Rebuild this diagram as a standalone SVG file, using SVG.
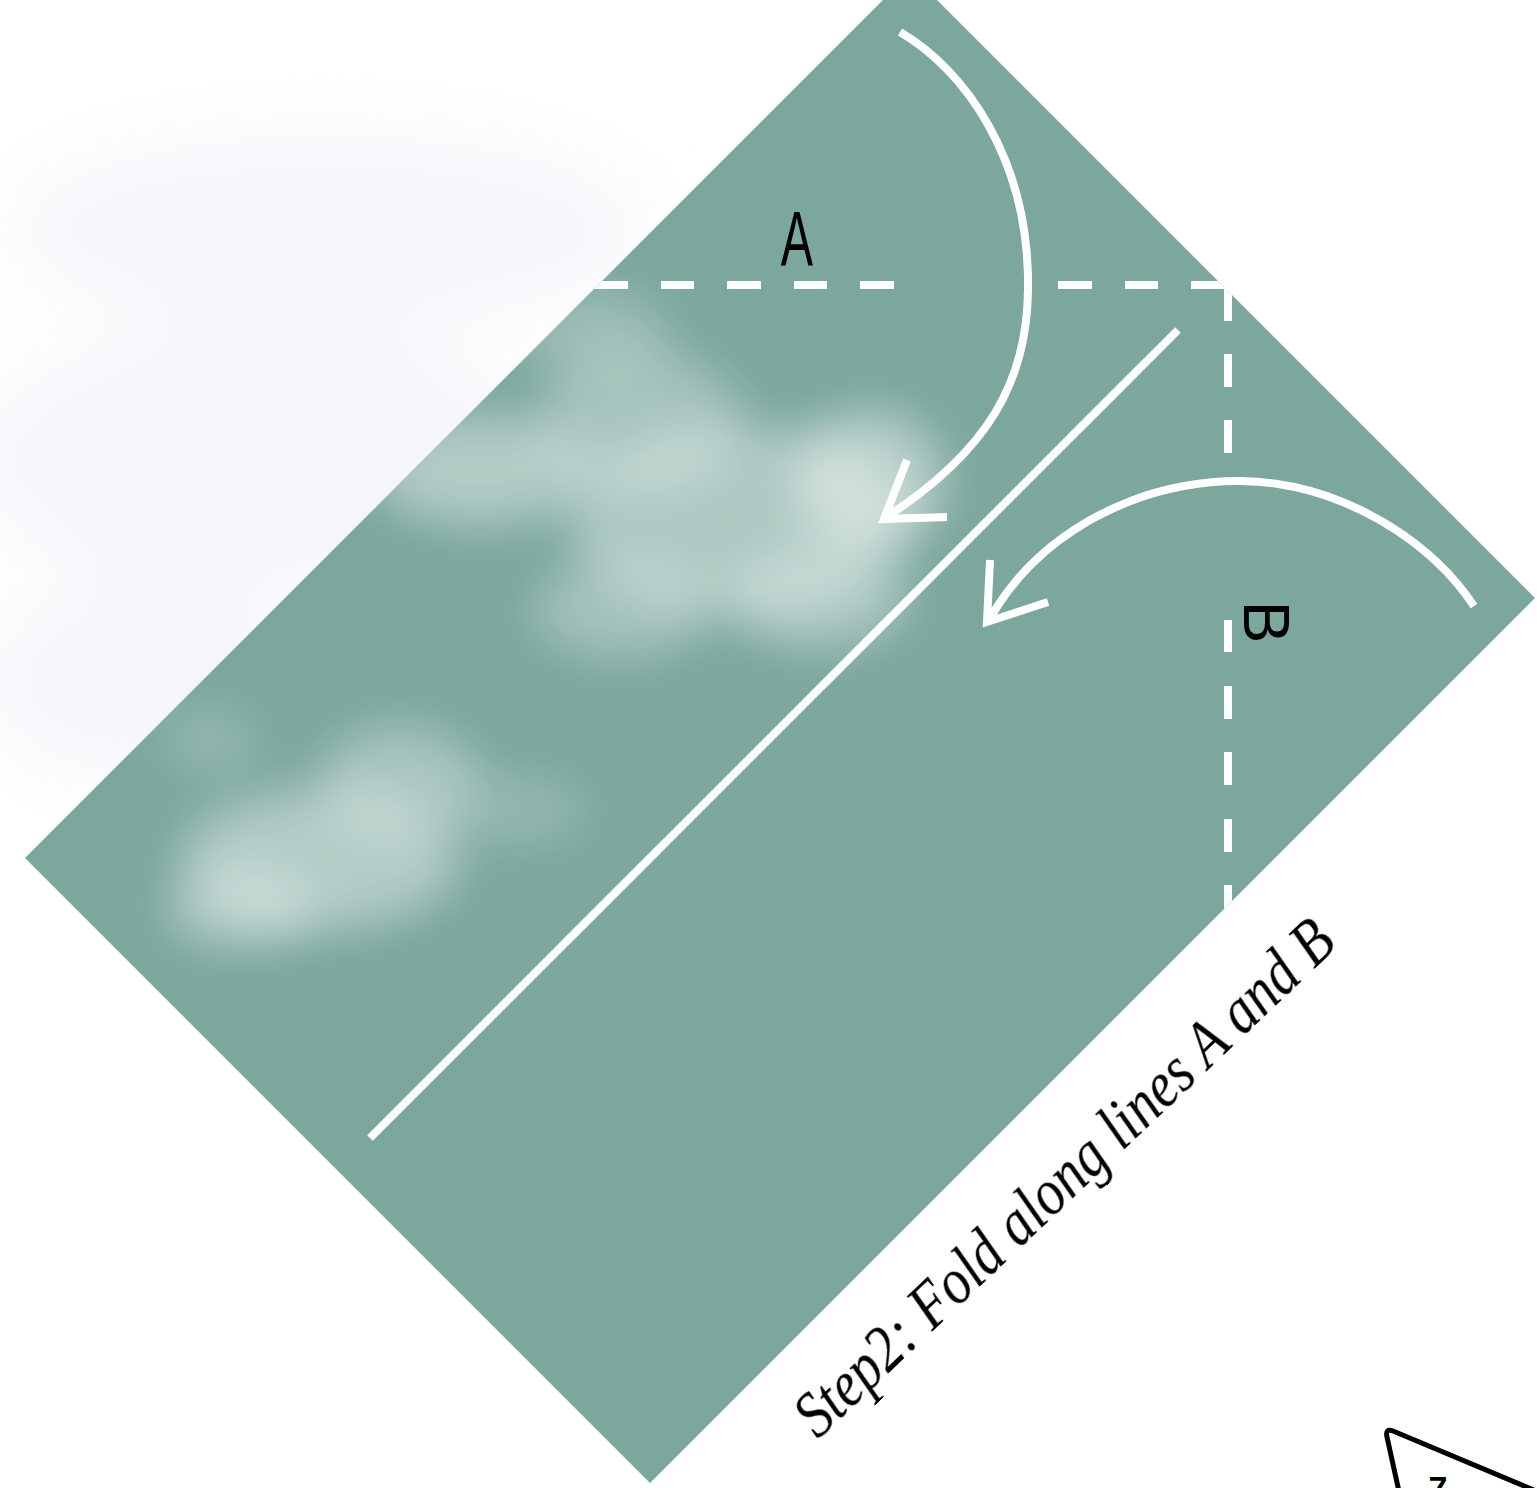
<svg xmlns="http://www.w3.org/2000/svg" width="1537" height="1488" viewBox="0 0 1537 1488">
  <defs>
    <style>
      .wline { fill: none; stroke: #ffffff; stroke-width: 8; stroke-linecap: butt; stroke-linejoin: miter; }
      .dash { fill: none; stroke: #ffffff; stroke-width: 8; stroke-linecap: butt; }
      .ink { font-family: "Liberation Sans", "DejaVu Sans", sans-serif; fill: #000000; }
      .script { font-family: "Liberation Serif", "DejaVu Serif", serif; font-style: italic; fill: #000000; }
    </style>
    <clipPath id="sheetClip">
      <polygon points="25,858 910,-27 1535,598 650,1483"/>
    </clipPath>
    <filter id="blurBig" x="-50%" y="-50%" width="200%" height="200%">
      <feGaussianBlur stdDeviation="35"/>
    </filter>
    <filter id="blurMid" x="-50%" y="-50%" width="200%" height="200%">
      <feGaussianBlur stdDeviation="24"/>
    </filter>
  </defs>

  <rect x="0" y="0" width="1537" height="1488" fill="#ffffff"/>

  <!-- faint background cloud haze -->
  <g id="background-clouds" filter="url(#blurBig)" fill="#eceef5" opacity="0.5">
    <ellipse cx="330" cy="230" rx="320" ry="100"/>
    <ellipse cx="260" cy="460" rx="290" ry="140"/>
    <ellipse cx="140" cy="680" rx="160" ry="100"/>
  </g>

  <!-- paper sheet -->
  <g id="sheet">
    <polygon points="25,858 910,-27 1535,598 650,1483" fill="#7ba79d"/>
    <g clip-path="url(#sheetClip)" filter="url(#blurMid)" fill="#ffffff">
      <ellipse cx="740" cy="520" rx="170" ry="95" opacity="0.38"/>
      <ellipse cx="640" cy="420" rx="100" ry="70" opacity="0.32"/>
      <ellipse cx="480" cy="470" rx="110" ry="55" opacity="0.42"/>
      <ellipse cx="870" cy="480" rx="75" ry="70" opacity="0.45"/>
      <ellipse cx="820" cy="600" rx="90" ry="50" opacity="0.35"/>
      <ellipse cx="620" cy="610" rx="90" ry="50" opacity="0.3"/>
      <ellipse cx="590" cy="330" rx="80" ry="40" opacity="0.25"/>
      <ellipse cx="320" cy="860" rx="140" ry="70" opacity="0.42"/>
      <ellipse cx="400" cy="780" rx="80" ry="55" opacity="0.35"/>
      <ellipse cx="240" cy="910" rx="75" ry="38" opacity="0.38"/>
      <ellipse cx="210" cy="740" rx="50" ry="32" opacity="0.2"/>
      <ellipse cx="520" cy="810" rx="70" ry="35" opacity="0.2"/>
    </g>
  </g>

  <!-- connectors: fold lines and arrows -->
  <g id="connectors">
    <path class="dash" clip-path="url(#sheetClip)" d="M590,285H628 M661,285H694 M727,285H761 M794,285H827 M860,285H894 M1058,285H1092 M1125,285H1158 M1191,285H1228V321 M1228,354V387 M1228,420V453 M1228,620V652 M1228,686V719 M1228,752V785 M1228,819V852 M1228,885V920"/>
    <line class="wline" x1="1178" y1="330" x2="370" y2="1138"/>
    <path id="arrow-A" class="wline" d="M900,32 C965,70 1030,160 1028,290 C1027,380 990,450 885,518"/>
    <polyline class="wline" points="907,460 884,519 947,517"/>
    <path id="arrow-B" class="wline" d="M1474,606 C1430,540 1340,482 1240,481 C1140,481 1040,530 989,620"/>
    <polyline class="wline" points="990,560 987,622 1048,602"/>
  </g>

  <g id="label-A">
    <text class="ink" transform="translate(797,266) scale(0.62,1)" font-size="78" text-anchor="middle">A</text>
  </g>

  <g id="label-B">
    <text class="ink" transform="translate(1266,622) rotate(90)" font-size="64" text-anchor="middle" dominant-baseline="central">B</text>
  </g>

  <g id="caption">
    <text class="script" transform="translate(818,1440) rotate(-43.5)" font-size="66" textLength="718" lengthAdjust="spacingAndGlyphs">Step2: Fold along lines A and B</text>
  </g>

  <g id="page-number">
    <path d="M1548,1496 L1393,1431 Q1385,1428 1387,1437 L1400,1496" fill="none" stroke="#000000" stroke-width="5" stroke-linejoin="round"/>
    <text class="ink" x="1438" y="1500" font-size="34" font-weight="bold" text-anchor="middle">7</text>
  </g>
</svg>
